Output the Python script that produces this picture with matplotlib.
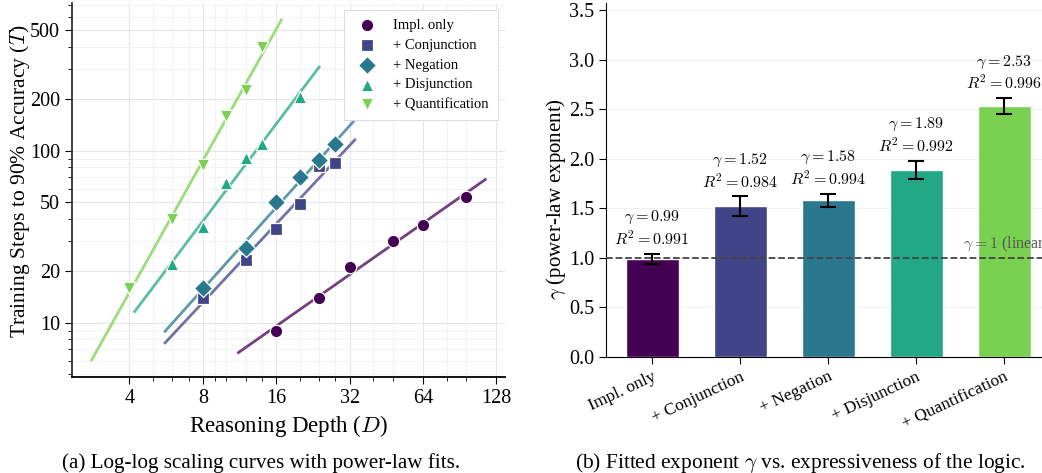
import numpy as np
import matplotlib
matplotlib.use("Agg")
import matplotlib.pyplot as plt
from matplotlib.ticker import FixedLocator, NullFormatter, LogLocator

plt.rcParams["font.family"] = "serif"
plt.rcParams["font.serif"] = ["Liberation Serif", "DejaVu Serif"]
plt.rcParams["mathtext.fontset"] = "cm"

# ── Data ──
series_names = ["Impl. only", "+ Conjunction", "+ Negation", "+ Disjunction", "+ Quantification"]
markers = ["o", "s", "D", "^", "v"]

depth_impl = [16, 24, 32, 48, 64, 96]
steps_impl = [9, 14, 21, 30, 37, 54]
depth_conj = [8, 12, 16, 20, 24, 28]
steps_conj = [14, 23, 35, 49, 81, 85]
depth_neg = [8, 12, 16, 20, 24, 28]
steps_neg = [16, 27, 50, 70, 88, 109]
depth_disj = [6, 8, 10, 12, 14, 20]
steps_disj = [22, 36, 65, 91, 110, 204]
depth_quant = [4, 6, 8, 10, 12, 14]
steps_quant = [16, 40, 82, 160, 225, 400]

gamma = [0.99, 1.52, 1.58, 1.89, 2.53]
gamma_err = [0.05, 0.10, 0.065, 0.09, 0.08]
r_squared = [0.991, 0.984, 0.994, 0.992, 0.996]

x_major = [4, 8, 16, 32, 64, 128]
x_minor = [5, 6, 7, 9, 10, 12, 14, 20, 24, 28, 40, 48, 80, 96]
y_major = [10, 20, 50, 100, 200, 500]

depths = [depth_impl, depth_conj, depth_neg, depth_disj, depth_quant]
steps = [steps_impl, steps_conj, steps_neg, steps_disj, steps_quant]
colours = [plt.cm.viridis(v) for v in np.linspace(0, 0.8, 5)]

fig = plt.figure(figsize=(10.42, 4.73), dpi=100)

# ── (a) log-log curves ──
ax = fig.add_axes([0.0691, 0.203, 0.4155, 0.791])
ax.set_xscale("log", base=2)
ax.set_yscale("log")
for name, m, c, d, s in zip(series_names, markers, colours, depths, steps):
    d = np.array(d, dtype=float)
    s = np.array(s, dtype=float)
    k, b = np.polyfit(np.log(d), np.log(s), 1)
    xs = np.linspace(d.min() * 0.7, d.max() * 1.2, 50)
    ax.plot(xs, np.exp(b) * xs ** k, color=c, lw=2, alpha=0.75, zorder=2)
    ax.scatter(d, s, marker=m, s=80 if m != "D" else 85, color=c,
               edgecolors="white", linewidths=0.9, zorder=3, label=name)

ax.xaxis.set_major_locator(FixedLocator(x_major))
ax.xaxis.set_minor_locator(FixedLocator(x_minor))
ax.set_xticks(x_major, [str(v) for v in x_major])
ax.xaxis.set_minor_formatter(NullFormatter())
ax.set_yticks(y_major, [str(v) for v in y_major])
ax.yaxis.set_minor_locator(LogLocator(base=10, subs=np.arange(2, 10)))
ax.yaxis.set_minor_formatter(NullFormatter())
ax.tick_params(which="both", labelsize=14.5, direction="out")
ax.tick_params(which="major", length=5)
ax.tick_params(which="minor", length=3)
ax.grid(True, which="major", color="#e6e6e6", lw=0.8)
ax.grid(True, which="minor", color="#f0f0f0", lw=0.6)
ax.set_axisbelow(True)
for side in ("top", "right"):
    ax.spines[side].set_visible(False)
ax.spines["left"].set_color("#333333")
ax.spines["left"].set_linewidth(1.3)
ax.spines["bottom"].set_linewidth(1.3)
ax.set_xlabel(r"Reasoning Depth ($D$)", fontsize=16.5)
ax.set_ylabel(r"Training Steps to 90% Accuracy ($T$)", fontsize=15.5)
ax.yaxis.set_label_coords(-0.092, 0.524)
leg = ax.legend(loc="upper right", fontsize=10.5, frameon=True, fancybox=False,
                edgecolor="#dddddd", framealpha=1, borderpad=0.6, labelspacing=0.45)
leg.get_frame().set_linewidth(0.8)

# ── (b) fitted exponents ──
bx = fig.add_axes([0.5816, 0.2452, 0.4184, 0.7484])
pos = np.arange(len(series_names))
bx.bar(pos, gamma, width=0.6, color=colours, edgecolor="white", linewidth=1, zorder=2)
bx.errorbar(pos, gamma, yerr=gamma_err, fmt="none", ecolor="black",
            elinewidth=1.5, capsize=6, capthick=1.5, zorder=3)
for p, g, e, r in zip(pos, gamma, gamma_err, r_squared):
    bx.text(p, g + e + 0.365, r"$\gamma = %.2f$" % g, ha="center", va="center", fontsize=11.5)
    bx.text(p, g + e + 0.145, r"$R^2 = %.3f$" % r, ha="center", va="center", fontsize=11.5)
bx.axhline(1.0, color="#444444", ls="--", lw=1.3, zorder=4)
bx.text(3.53, 1.04, r"$\gamma = 1$ (linear)", ha="left", va="bottom",
        fontsize=11.5, color="#555555")
bx.set_xlim(-0.526, 4.43)
bx.set_ylim(0, 3.57)
bx.set_yticks(np.arange(0, 3.51, 0.5))
bx.set_yticklabels(["%.1f" % v for v in np.arange(0, 3.51, 0.5)])
bx.set_xticks(pos)
bx.set_xticklabels(series_names, rotation=25, ha="right", rotation_mode="anchor", fontsize=12.5)
bx.tick_params(axis="y", labelsize=14.5, length=5)
bx.tick_params(axis="x", length=5)
bx.yaxis.grid(True, color="#f0f0f0", lw=0.8)
bx.set_axisbelow(True)
for side in ("top", "right"):
    bx.spines[side].set_visible(False)
bx.set_ylabel(r"$\gamma$ (power-law exponent)", fontsize=15)
bx.yaxis.set_label_coords(-0.087, 0.446)

# ── captions ──
fig.text(0.251, 0.022, "(a) Log-log scaling curves with power-law fits.",
         ha="center", va="center", fontsize=15.2)
fig.text(0.768, 0.022, r"(b) Fitted exponent $\gamma$ vs. expressiveness of the logic.",
         ha="center", va="center", fontsize=15.4)

fig.savefig("out.png", dpi=100)
